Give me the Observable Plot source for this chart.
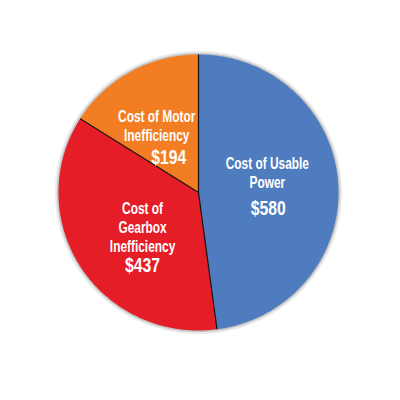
<!DOCTYPE html>
<html>
<head>
<meta charset="utf-8">
<script src="https://cdn.jsdelivr.net/npm/d3@7"></script>
<script src="https://cdn.jsdelivr.net/npm/@observablehq/plot@0.6"></script>
<style>
  html, body { margin: 0; padding: 0; background: #fff; }
  #chart { width: 400px; height: 400px; }
</style>
</head>
<body>
<div id="chart"></div>
<script>
// ---- data ----
const categories = ["Cost of Usable Power", "Cost of Gearbox Inefficiency", "Cost of Motor Inefficiency"];
const nameLabels = ["Cost of Usable\nPower", "Cost of\nGearbox\nInefficiency", "Cost of Motor\nInefficiency"];
const values = [580, 437, 194];
const valueLabels = ["$580", "$437", "$194"];
const colors = ["#4f7bbf", "#e51d26", "#f27d22"];

// ---- geometry from d3.pie (angles clockwise from 12 o'clock) ----
const arcs = d3.pie().sort(null).value(d => d)(values);
const polar = (a, r) => ({x: r * Math.sin(a), y: r * Math.cos(a)});

const slicePts = [];
arcs.forEach((a, i) => {
  slicePts.push({slice: categories[i], ...polar(0, 0)});
  const n = Math.max(2, Math.ceil((a.endAngle - a.startAngle) / (Math.PI / 180)));
  for (let k = 0; k <= n; k++) {
    const t = a.startAngle + (a.endAngle - a.startAngle) * k / n;
    slicePts.push({slice: categories[i], ...polar(t, 1)});
  }
});

const ring = d3.range(0, 361).map(d => polar(d * Math.PI / 180, 1));

const dividers = arcs.map(a => {
  const p = polar(a.startAngle, 1);
  return {x1: 0, y1: 0, x2: p.x, y2: p.y};
});

const mid = a => (a.startAngle + a.endAngle) / 2;
const font = "'Liberation Sans', Arial, sans-serif";

// per-slice label nudges (layout only)
const nudges = [
  {name: [-1, -16], value: [0, 20]},
  {name: [3, -3], value: [3, 36]},
  {name: [-8, -7], value: [4, 25]}
];

const labelMarks = [];
arcs.forEach((a, i) => {
  const c = polar(mid(a), 0.5);
  labelMarks.push(Plot.text([c], {
    x: "x", y: "y", text: () => nameLabels[i],
    dx: nudges[i].name[0], dy: nudges[i].name[1],
    fill: "white", fontFamily: font, fontWeight: "bold", fontSize: 17,
    lineHeight: 1.12, lineAnchor: "middle", className: "lbl-name"
  }));
  labelMarks.push(Plot.text([c], {
    x: "x", y: "y", text: () => valueLabels[i],
    dx: nudges[i].value[0], dy: nudges[i].value[1],
    fill: "white", fontFamily: font, fontWeight: "bold", fontSize: 21,
    lineAnchor: "middle", className: "lbl-value"
  }));
});

const chart = Plot.plot({
  width: 400,
  height: 400,
  margin: 0,
  x: {domain: [-1, 1], range: [58, 338], axis: null},
  y: {domain: [-1, 1], range: [330, 54], axis: null},
  color: {domain: categories, range: colors},
  style: {background: "white"},
  marks: [
    Plot.line(ring, {x: "x", y: "y", stroke: "#dcdcdc", strokeWidth: 7, strokeOpacity: 0.6}),
    Plot.line(ring, {x: "x", y: "y", stroke: "#c4c4c4", strokeWidth: 3}),
    Plot.line(slicePts, {x: "x", y: "y", z: "slice", fill: "slice", stroke: "none", curve: "linear"}),
    Plot.link(dividers, {x1: "x1", y1: "y1", x2: "x2", y2: "y2", stroke: "#111", strokeWidth: 1.2}),
    ...labelMarks
  ]
});

// condense the bold labels horizontally (narrow type face look)
chart.querySelectorAll("g.lbl-name text").forEach(t => {
  t.setAttribute("transform", (t.getAttribute("transform") || "") + " scale(0.7,1)");
});
chart.querySelectorAll("g.lbl-value text").forEach(t => {
  t.setAttribute("transform", (t.getAttribute("transform") || "") + " scale(0.75,1)");
});

document.getElementById("chart").appendChild(chart);
</script>
</body>
</html>
